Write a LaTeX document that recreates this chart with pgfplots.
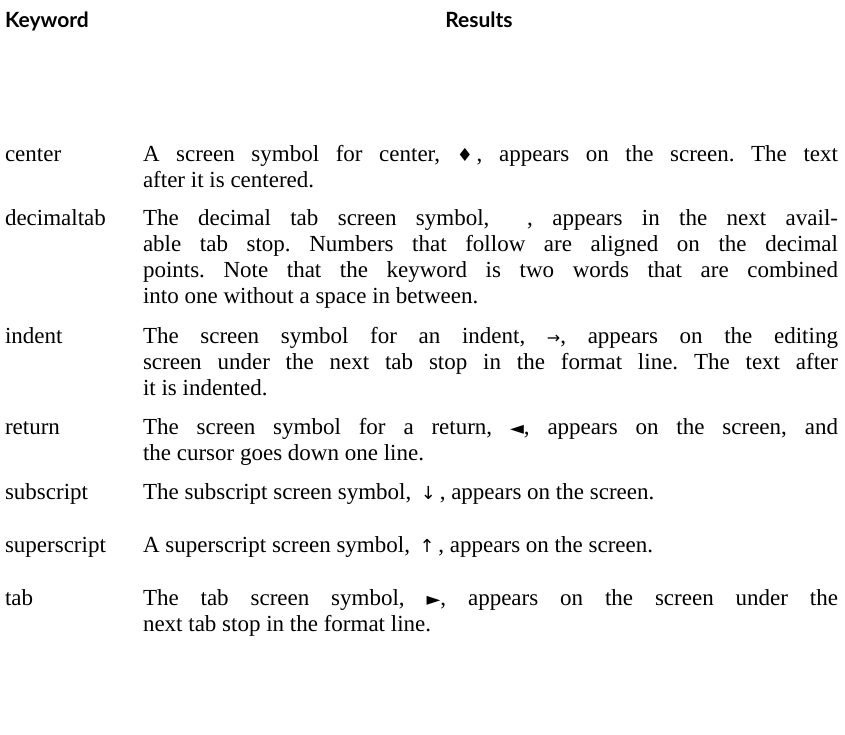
\documentclass[border=0pt]{standalone}
\usepackage{fontspec}
\usepackage{pgfplots}
\pgfplotsset{compat=1.18}
\setmainfont{Liberation Serif}
\newfontfamily\hdr{Lato}
\newfontfamily\sym{DejaVu Sans}
\frenchspacing
\newcommand{\J}[1]{\makebox[347.5pt][s]{#1}}
\tikzset{
  L/.style={anchor=base west, inner sep=0pt, outer sep=0pt, font=\fontsize{11.5}{13}\selectfont},
  H/.style={anchor=base west, inner sep=0pt, outer sep=0pt, font=\hdr\bfseries\fontsize{10.5}{12}\selectfont},
}
\begin{document}
\begin{tikzpicture}
\begin{axis}[
  width=422.5pt, height=367pt, scale only axis,
  xmin=0, xmax=845, ymin=0, ymax=734, y dir=reverse,
  axis lines=none, ticks=none, clip=false
]
\addplot[draw=none] coordinates {(0,0) (845,734)};
% headers
\node[H] at (axis cs:5,27) {Keyword};
\node[H, anchor=base] at (axis cs:479,27) {Results};
% keywords
\node[L] at (axis cs:5,161) {center};
\node[L] at (axis cs:5,225) {decimaltab};
\node[L] at (axis cs:5,343) {indent};
\node[L] at (axis cs:5,434) {return};
\node[L] at (axis cs:5,499) {subscript};
\node[L] at (axis cs:5,552) {superscript};
\node[L] at (axis cs:5,605) {tab};
% results
\node[L] at (axis cs:143,161) {\J{A screen symbol for center, {\sym\small ♦}\,, appears on the screen. The text}};
\node[L] at (axis cs:143,187) {after it is centered.};
\node[L] at (axis cs:143,225) {\J{The decimal tab screen symbol, \hspace{0.8em}, appears in the next avail-}};
\node[L] at (axis cs:143,251) {\J{able tab stop. Numbers that follow are aligned on the decimal}};
\node[L] at (axis cs:143,277) {\J{points. Note that the keyword is two words that are combined}};
\node[L] at (axis cs:143,303) {into one without a space in between.};
\node[L] at (axis cs:143,343) {\J{The screen symbol for an indent, {\sym\footnotesize →}, appears on the editing}};
\node[L] at (axis cs:143,369) {\J{screen under the next tab stop in the format line. The text after}};
\node[L] at (axis cs:143,395) {it is indented.};
\node[L] at (axis cs:143,434) {\J{The screen symbol for a return, {\sym\small ◄}, appears on the screen, and}};
\node[L] at (axis cs:143,460) {the cursor goes down one line.};
\node[L] at (axis cs:143,499) {The subscript screen symbol, \,{\sym\small ↓}\,, appears on the screen.};
\node[L] at (axis cs:143,552) {A superscript screen symbol, \,{\sym\small ↑}\,, appears on the screen.};
\node[L] at (axis cs:143,605) {\J{The tab screen symbol, {\sym\small ►}, appears on the screen under the}};
\node[L] at (axis cs:143,631) {next tab stop in the format line.};
\end{axis}
\end{tikzpicture}
\end{document}
